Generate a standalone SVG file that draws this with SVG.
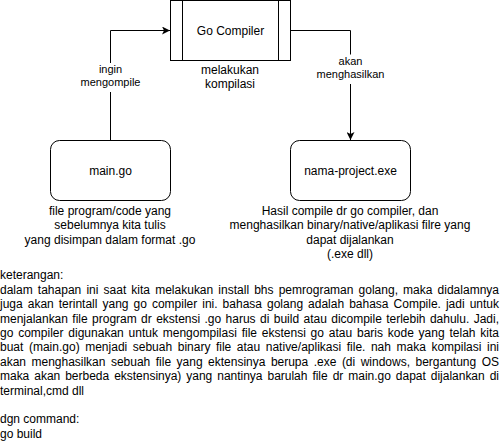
<svg xmlns="http://www.w3.org/2000/svg" width="500" height="442" viewBox="0 0 500 442">
<defs>
<style>
text{font-family:"Liberation Sans",Arial,sans-serif;fill:#000;}
.n{font-size:12px;text-anchor:middle;}
.l{font-size:11px;text-anchor:middle;}
.p{font-size:12px;}
.box{fill:#fff;stroke:#000;stroke-width:1;}
.edge{fill:none;stroke:#000;stroke-width:1;}
.bg{fill:#fff;stroke:none;}
</style>
<marker id="arr" viewBox="0 0 8 8" refX="8" refY="4" markerWidth="8" markerHeight="8" markerUnits="userSpaceOnUse" orient="auto">
<path d="M0,0 L8,4 L0,8 L2,4 Z" fill="#000"/>
</marker>
</defs>
<rect width="500" height="442" fill="#fff"/>

<g id="connectors">
<path class="edge" d="M110.5,140.5 V30.5 H170" marker-end="url(#arr)"/>
<path class="edge" d="M290.5,30.5 H350.5 V140" marker-end="url(#arr)"/>
<rect class="bg" x="79" y="63" width="63" height="29"/>
<text class="l" x="110.5" y="72.5">ingin</text>
<text class="l" x="110.5" y="86">mengompile</text>
<rect class="bg" x="316" y="54.5" width="69" height="29.5"/>
<text class="l" x="350.5" y="64.5">akan</text>
<text class="l" x="350.5" y="77.7">menghasilkan</text>
</g>

<g id="go-compiler">
<rect class="box" x="170.5" y="0.5" width="120" height="60"/>
<line class="edge" x1="182.5" y1="0.5" x2="182.5" y2="60.5"/>
<line class="edge" x1="278.5" y1="0.5" x2="278.5" y2="60.5"/>
<text class="n" x="230.5" y="34.5">Go Compiler</text>
<text class="n" x="230" y="73.8">melakukan</text>
<text class="n" x="230" y="87.8">kompilasi</text>
</g>

<g id="main-go">
<rect class="box" x="50.5" y="140.5" width="120" height="60" rx="9" ry="9"/>
<text class="n" x="110.5" y="174.5">main.go</text>
<text class="n" x="110" y="214.7">file program/code yang</text>
<text class="n" x="110" y="229.1">sebelumnya kita tulis</text>
<text class="n" x="110" y="243.5">yang disimpan dalam format .go</text>
</g>

<g id="nama-project-exe">
<rect class="box" x="290.5" y="140.5" width="120" height="60" rx="9" ry="9"/>
<text class="n" x="350.5" y="174.5">nama-project.exe</text>
<text class="n" x="350" y="214.7">Hasil compile dr go compiler, dan</text>
<text class="n" x="350" y="229.1">menghasilkan binary/native/aplikasi filre yang</text>
<text class="n" x="350" y="243.5">dapat dijalankan</text>
<text class="n" x="350" y="257.9">(.exe dll)</text>
</g>

<g id="keterangan">
<text class="p" x="0" y="279.3">keterangan:</text>
<text class="p" x="0" y="293.7" word-spacing="1.8" textLength="499" lengthAdjust="spacing">dalam tahapan ini saat kita melakukan install bhs pemrograman golang, maka didalamnya</text>
<text class="p" x="0" y="308.1" word-spacing="1.7" textLength="499" lengthAdjust="spacing">juga akan terintall yang go compiler ini. bahasa golang adalah bahasa Compile. jadi untuk</text>
<text class="p" x="0" y="322.5" word-spacing="1.1" textLength="499" lengthAdjust="spacing">menjalankan file program dr ekstensi .go harus di build atau dicompile terlebih dahulu. Jadi,</text>
<text class="p" x="0" y="336.9" word-spacing="1.45" textLength="499" lengthAdjust="spacing">go compiler digunakan untuk mengompilasi file ekstensi go atau baris kode yang telah kita</text>
<text class="p" x="0" y="351.3" word-spacing="2.2" textLength="499" lengthAdjust="spacing">buat (main.go) menjadi sebuah binary file atau native/aplikasi file. nah maka kompilasi ini</text>
<text class="p" x="0" y="365.7" word-spacing="2.2" textLength="499" lengthAdjust="spacing">akan menghasilkan sebuah file yang ektensinya berupa .exe (di windows, bergantung OS</text>
<text class="p" x="0" y="380.1" word-spacing="1.65" textLength="499" lengthAdjust="spacing">maka akan berbeda ekstensinya) yang nantinya barulah file dr main.go dapat dijalankan di</text>
<text class="p" x="0" y="394.5">terminal,cmd dll</text>
<text class="p" x="0" y="423.3">dgn command:</text>
<text class="p" x="0" y="437.7">go build</text>
</g>
</svg>
